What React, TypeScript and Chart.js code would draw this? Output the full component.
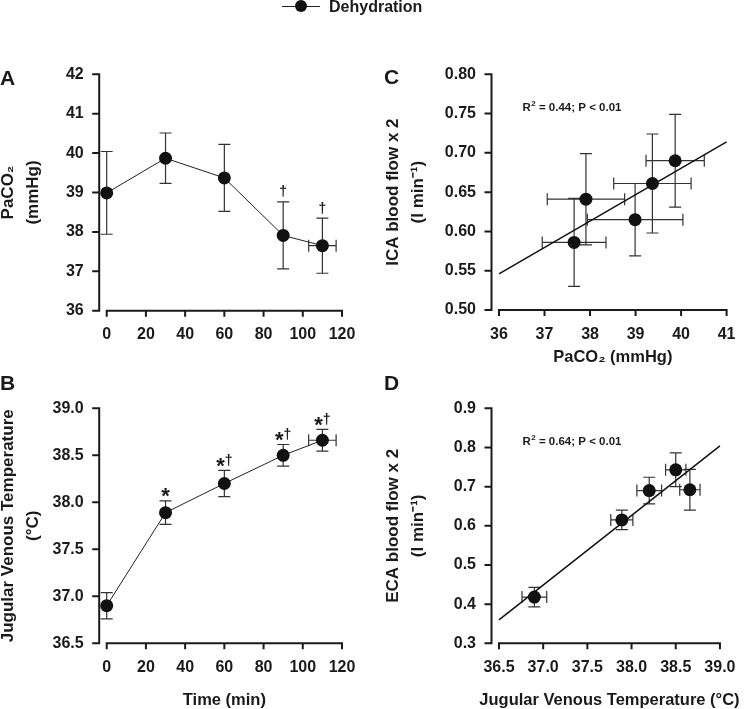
import React, { useEffect, useRef } from "react";
import { Chart, registerables } from "chart.js";

Chart.register(...registerables);

const FONT = "'Liberation Sans', Arial, Helvetica, sans-serif";
const INK = "#1a1a1a";

// ---- shared time axis ----
const timeMin = [0, 30, 60, 90, 110];
const timeSD = [0, 0, 0, 0, 7];
const timeTicks = [0, 20, 40, 60, 80, 100, 120];

// ---- Panel A: PaCO2 ----
const paco2 = [38.99, 39.87, 39.37, 37.91, 37.65];
const paco2SD = [1.05, 0.64, 0.85, 0.85, 0.7];
const paco2Marks = ["", "", "", "†", "†"];
const paco2Ticks = [36, 37, 38, 39, 40, 41, 42];

// ---- Panel B: jugular venous temperature ----
const jvt = [36.9, 37.89, 38.2, 38.5, 38.66];
const jvtSD = [0.14, 0.125, 0.14, 0.115, 0.115];
const jvtMarks = ["", "*", "*†", "*†", "*†"];
const jvtTicks = [36.5, 37.0, 37.5, 38.0, 38.5, 39.0];

// ---- Panel C: ICA blood flow vs PaCO2 ----
const icaFlow = [0.615, 0.69, 0.661, 0.641, 0.586];
const icaSD = [0.046, 0.059, 0.063, 0.058, 0.056];
const icaFitX = [36, 41];
const icaFitY = [0.546, 0.714];
const icaStat = " = 0.44; P < 0.01";
const icaTicks = [0.5, 0.55, 0.6, 0.65, 0.7, 0.75, 0.8];
const paco2XTicks = [36, 37, 38, 39, 40, 41];

// ---- Panel D: ECA blood flow vs temperature ----
const ecaFlow = [0.418, 0.615, 0.69, 0.743, 0.692];
const ecaSD = [0.025, 0.025, 0.034, 0.043, 0.052];
const ecaFitX = [36.5, 39.0];
const ecaFitY = [0.36, 0.804];
const ecaStat = " = 0.64; P < 0.01";
const ecaTicks = [0.3, 0.4, 0.5, 0.6, 0.7, 0.8, 0.9];
const jvtXTicks = [36.5, 37.0, 37.5, 38.0, 38.5, 39.0];

const legendLabel = "Dehydration";

const decorPlugin = {
  id: "panelDecor",
  beforeDatasetsDraw(chart: any, _args: any, opts: any) {
    const { ctx, chartArea, scales } = chart;
    const x = scales.x;
    const y = scales.y;
    ctx.save();
    // axes (detached y axis)
    ctx.strokeStyle = INK;
    ctx.lineWidth = 2;
    const ax = chartArea.left - (opts.gap ?? 7.5);
    const yTop = y.getPixelForValue(y.max);
    const yBot = y.getPixelForValue(y.min);
    ctx.beginPath();
    ctx.moveTo(ax, yTop - 1);
    ctx.lineTo(ax, yBot + 1);
    y.ticks.forEach((t: any) => {
      const py = y.getPixelForValue(t.value);
      ctx.moveTo(ax - 7, py);
      ctx.lineTo(ax, py);
    });
    ctx.stroke();
    const ay = chartArea.bottom;
    ctx.beginPath();
    ctx.moveTo(x.getPixelForValue(x.min) - 1, ay);
    ctx.lineTo(x.getPixelForValue(x.max) + 1, ay);
    x.ticks.forEach((t: any) => {
      const px = x.getPixelForValue(t.value);
      ctx.moveTo(px, ay);
      ctx.lineTo(px, ay + 6);
    });
    ctx.stroke();

    // error bars
    ctx.strokeStyle = "#333";
    ctx.lineWidth = 1.2;
    const cap = 6;
    chart.data.datasets.forEach((ds: any) => {
      if (!ds.yErr && !ds.xErr) return;
      ds.data.forEach((p: any, j: number) => {
        const px = x.getPixelForValue(p.x);
        const py = y.getPixelForValue(p.y);
        ctx.beginPath();
        const ye = ds.yErr ? ds.yErr[j] : 0;
        if (ye > 0) {
          const t = y.getPixelForValue(p.y + ye);
          const b = y.getPixelForValue(p.y - ye);
          ctx.moveTo(px, t);
          ctx.lineTo(px, b);
          ctx.moveTo(px - cap, t);
          ctx.lineTo(px + cap, t);
          ctx.moveTo(px - cap, b);
          ctx.lineTo(px + cap, b);
        }
        const xe = ds.xErr ? ds.xErr[j] : 0;
        if (xe > 0) {
          const l = x.getPixelForValue(p.x - xe);
          const r = x.getPixelForValue(p.x + xe);
          ctx.moveTo(l, py);
          ctx.lineTo(r, py);
          ctx.moveTo(l, py - cap);
          ctx.lineTo(l, py + cap);
          ctx.moveTo(r, py - cap);
          ctx.lineTo(r, py + cap);
        }
        ctx.stroke();
      });
    });
    ctx.restore();
  },
  afterDatasetsDraw(chart: any, _args: any, opts: any) {
    const { ctx, chartArea, scales } = chart;
    const x = scales.x;
    const y = scales.y;
    ctx.save();
    ctx.fillStyle = INK;
    ctx.textBaseline = "alphabetic";
    ctx.textAlign = "left";
    const starFont = `bold 22px ${FONT}`;
    const dagFont = `bold 14px ${FONT}`;
    chart.data.datasets.forEach((ds: any) => {
      if (!ds.marks) return;
      ds.data.forEach((p: any, j: number) => {
        const m: string = ds.marks[j];
        if (!m) return;
        const px = x.getPixelForValue(p.x);
        const errTop = y.getPixelForValue(p.y + (ds.yErr ? ds.yErr[j] : 0));
        const chars = Array.from(m);
        const widths = chars.map((c) => {
          ctx.font = c === "*" ? starFont : dagFont;
          return ctx.measureText(c).width;
        });
        let cx = px - widths.reduce((a, b) => a + b, 0) / 2;
        chars.forEach((c, k) => {
          ctx.font = c === "*" ? starFont : dagFont;
          ctx.fillText(c, cx, c === "*" ? errTop + 2.6 : errTop - 5.5);
          cx += widths[k];
        });
      });
    });
    if (opts.stat) {
      const sx = chartArea.left + 23.5;
      const sy = chartArea.top + 37;
      ctx.font = `bold 11.5px ${FONT}`;
      ctx.fillText("R", sx, sy);
      const rw = ctx.measureText("R").width;
      ctx.font = `bold 8px ${FONT}`;
      ctx.fillText("2", sx + rw + 0.5, sy - 5);
      const w2 = ctx.measureText("2").width;
      ctx.font = `bold 11.5px ${FONT}`;
      ctx.fillText(opts.stat, sx + rw + 0.5 + w2, sy);
    }
    // axis titles (drawn at natural width, no squeezing)
    ctx.textBaseline = "middle";
    ctx.textAlign = "center";
    if (opts.xTitle) {
      ctx.font = `bold 16.5px ${FONT}`;
      const cx = (x.getPixelForValue(x.min) + x.getPixelForValue(x.max)) / 2;
      ctx.fillText(opts.xTitle, cx, chartArea.bottom + opts.xTitleOffset);
    }
    if (opts.yTitle) {
      ctx.font = `bold 17px ${FONT}`;
      const cy = (chartArea.top + chartArea.bottom) / 2;
      (opts.yTitle as string[]).forEach((line, k) => {
        ctx.save();
        ctx.translate(y.left + 12 + k * 25, cy);
        ctx.rotate(-Math.PI / 2);
        ctx.fillText(line, 0, 0);
        ctx.restore();
      });
    }
    ctx.restore();
  },
};

type PanelSpec = {
  xTicks: number[];
  yTicks: number[];
  xDec: number;
  yDec: number;
  xTitle?: string;
  xTitleOffset: number;
  yTitle: string[];
  datasets: any[];
  padding: { left: number; top: number; right: number; bottom: number };
  yWidth: number;
  xHeight: number;
  stat?: string;
};

function makeConfig(s: PanelSpec): any {
  const tickFont = { family: FONT, size: 16, weight: "bold" as const };
  return {
    type: "scatter",
    data: { datasets: s.datasets },
    plugins: [decorPlugin],
    options: {
      animation: false,
      responsive: false,
      devicePixelRatio: 1,
      events: [],
      layout: { padding: s.padding },
      plugins: {
        legend: { display: false },
        tooltip: { enabled: false },
        panelDecor: {
          gap: 7.5,
          stat: s.stat,
          xTitle: s.xTitle,
          xTitleOffset: s.xTitleOffset,
          yTitle: s.yTitle,
        },
      },
      scales: {
        x: {
          type: "linear",
          position: "bottom",
          min: s.xTicks[0],
          max: s.xTicks[s.xTicks.length - 1],
          afterBuildTicks: (sc: any) => {
            sc.ticks = s.xTicks.map((v) => ({ value: v }));
          },
          afterFit: (sc: any) => {
            sc.height = s.xHeight;
          },
          grid: { display: false, drawTicks: false },
          border: { display: false },
          ticks: {
            padding: 14.5,
            maxRotation: 0,
            autoSkip: false,
            color: INK,
            font: tickFont,
            callback: (v: any) => Number(v).toFixed(s.xDec),
          },
          title: { display: false },
        },
        y: {
          type: "linear",
          position: "left",
          min: s.yTicks[0],
          max: s.yTicks[s.yTicks.length - 1],
          afterBuildTicks: (sc: any) => {
            sc.ticks = s.yTicks.map((v) => ({ value: v }));
          },
          afterFit: (sc: any) => {
            sc.width = s.yWidth;
          },
          grid: { display: false, drawTicks: false },
          border: { display: false },
          ticks: {
            padding: 23,
            autoSkip: false,
            color: INK,
            font: tickFont,
            callback: (v: any) => Number(v).toFixed(s.yDec),
          },
          title: { display: false },
        },
      },
    },
  };
}

const pointStyle = {
  pointRadius: 6.5,
  pointBackgroundColor: "#111",
  pointBorderColor: "#111",
  pointBorderWidth: 0,
  clip: false,
};

function timeSeries(values: number[], sd: number[], marks: string[]) {
  return {
    data: timeMin.map((t, i) => ({ x: t, y: values[i] })),
    showLine: true,
    borderColor: "#222",
    borderWidth: 1,
    xErr: timeSD,
    yErr: sd,
    marks,
    ...pointStyle,
  };
}

function corrSeries(xs: number[], xsd: number[], ys: number[], ysd: number[]) {
  return {
    data: xs.map((v, i) => ({ x: v, y: ys[i] })),
    showLine: false,
    xErr: xsd,
    yErr: ysd,
    ...pointStyle,
  };
}

function fitLine(xs: number[], ys: number[]) {
  return {
    data: xs.map((v, i) => ({ x: v, y: ys[i] })),
    showLine: true,
    borderColor: "#111",
    borderWidth: 1.5,
    pointRadius: 0,
    clip: false,
  };
}

const panels: { key: string; left: number; top: number; width: number; height: number; spec: PanelSpec }[] = [
  {
    key: "A",
    left: -4,
    top: 0,
    width: 379,
    height: 345,
    spec: {
      xTicks: timeTicks,
      yTicks: paco2Ticks,
      xDec: 0,
      yDec: 0,
      xTitleOffset: 0,
      yTitle: ["PaCO₂", "(mmHg)"],
      datasets: [timeSeries(paco2, paco2SD, paco2Marks)],
      padding: { left: 0, top: 74.3, right: 379 - 346, bottom: 0 },
      yWidth: 110.7,
      xHeight: 345 - 310.7,
    },
  },
  {
    key: "B",
    left: -4,
    top: 370,
    width: 379,
    height: 339,
    spec: {
      xTicks: timeTicks,
      yTicks: jvtTicks,
      xDec: 0,
      yDec: 1,
      xTitle: "Time (min)",
      xTitleOffset: 56.7,
      yTitle: ["Jugular Venous Temperature", "(°C)"],
      datasets: [timeSeries(jvt, jvtSD, jvtMarks)],
      padding: { left: 0, top: 38.3, right: 379 - 346, bottom: 0 },
      yWidth: 110.7,
      xHeight: 339 - 273.3,
    },
  },
  {
    key: "C",
    left: 375,
    top: 0,
    width: 375,
    height: 370,
    spec: {
      xTicks: paco2XTicks,
      yTicks: icaTicks,
      xDec: 0,
      yDec: 2,
      xTitle: "PaCO₂ (mmHg)",
      xTitleOffset: 47,
      yTitle: ["ICA blood flow x 2", "(l min⁻¹)"],
      datasets: [corrSeries(paco2, paco2SD, icaFlow, icaSD), fitLine(icaFitX, icaFitY)],
      padding: { left: 6, top: 74.3, right: 16, bottom: 0 },
      yWidth: 118,
      xHeight: 60,
      stat: icaStat,
    },
  },
  {
    key: "D",
    left: 375,
    top: 370,
    width: 375,
    height: 339,
    spec: {
      xTicks: jvtXTicks,
      yTicks: ecaTicks,
      xDec: 1,
      yDec: 1,
      xTitle: "Jugular Venous Temperature (°C)",
      xTitleOffset: 56.7,
      yTitle: ["ECA blood flow x 2", "(l min⁻¹)"],
      datasets: [corrSeries(jvt, jvtSD, ecaFlow, ecaSD), fitLine(ecaFitX, ecaFitY)],
      padding: { left: 6, top: 38.3, right: 16, bottom: 0 },
      yWidth: 118,
      xHeight: 339 - 273.3,
      stat: ecaStat,
    },
  },
];

function Panel(props: { left: number; top: number; width: number; height: number; spec: PanelSpec }) {
  const ref = useRef<HTMLCanvasElement | null>(null);
  useEffect(() => {
    const chart = new Chart(ref.current as HTMLCanvasElement, makeConfig(props.spec));
    return () => chart.destroy();
  }, []);
  return (
    <canvas
      ref={ref}
      width={props.width}
      height={props.height}
      style={{ position: "absolute", left: props.left, top: props.top, width: props.width, height: props.height }}
    />
  );
}

const letterStyle: React.CSSProperties = {
  position: "absolute",
  fontFamily: FONT,
  fontWeight: "bold",
  fontSize: 21,
  lineHeight: "21px",
  color: INK,
};

export default function App() {
  return (
    <div
      style={{
        position: "absolute",
        left: 0,
        top: 0,
        width: 750,
        height: 709,
        background: "#fff",
        overflow: "hidden",
      }}
    >
      {panels.map((p) => (
        <Panel key={p.key} left={p.left} top={p.top} width={p.width} height={p.height} spec={p.spec} />
      ))}
      <div style={{ ...letterStyle, left: 0, top: 67 }}>A</div>
      <div style={{ ...letterStyle, left: 0, top: 372 }}>B</div>
      <div style={{ ...letterStyle, left: 384, top: 66 }}>C</div>
      <div style={{ ...letterStyle, left: 384, top: 372 }}>D</div>
      {/* legend */}
      <div style={{ position: "absolute", left: 282, top: 5.5, width: 38, height: 1.5, background: "#222" }} />
      <div
        style={{
          position: "absolute",
          left: 294.7,
          top: 0.3,
          width: 12,
          height: 12,
          borderRadius: "50%",
          background: "#111",
        }}
      />
      <div
        style={{
          position: "absolute",
          left: 329,
          top: -1,
          fontFamily: FONT,
          fontWeight: "bold",
          fontSize: 16,
          lineHeight: "16px",
          color: INK,
          whiteSpace: "nowrap",
        }}
      >
        {legendLabel}
      </div>
    </div>
  );
}
